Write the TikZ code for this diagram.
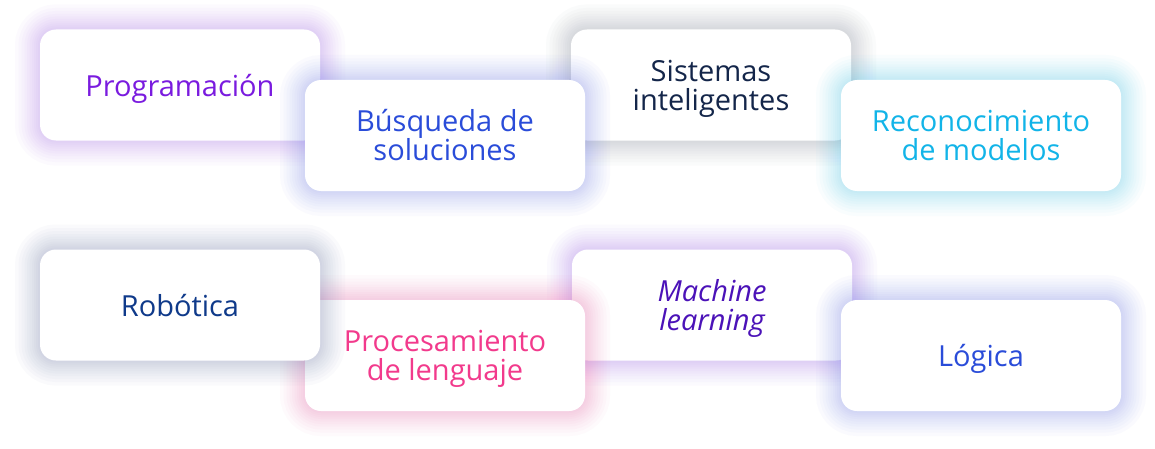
\documentclass[tikz,border=0pt]{standalone}
\usepackage{fontspec}
\setmainfont{Open Sans}
\usepackage{tikz}
\usetikzlibrary{positioning}

\definecolor{progtxt}{HTML}{7A1BDF}
\definecolor{busqtxt}{HTML}{2A4CD9}
\definecolor{sisttxt}{HTML}{14264A}
\definecolor{recotxt}{HTML}{12B4E8}
\definecolor{robotxt}{HTML}{0F3A8A}
\definecolor{proctxt}{HTML}{F23A8C}
\definecolor{machtxt}{HTML}{4B12B8}
\definecolor{logitxt}{HTML}{2A4CD9}

\definecolor{progglow}{HTML}{A066F0}
\definecolor{busqglow}{HTML}{6E7CF0}
\definecolor{sistglow}{HTML}{7F8797}
\definecolor{recoglow}{HTML}{40C8F5}
\definecolor{roboglow}{HTML}{6878A8}
\definecolor{procglow}{HTML}{F560A8}
\definecolor{machglow}{HTML}{9A60E8}

\begin{document}
\begin{tikzpicture}[
    x=1pt, y=1pt,
    card/.style={fill=white, rounded corners=16pt, minimum width=280pt,
      minimum height=111pt, align=center, inner sep=0pt,
      font=\fontsize{29}{29}\selectfont},
    nodepth/.style={text depth=0pt},
    halo/.style 2 args={preaction={draw=#1, draw opacity=0.032, line width=#2}},
    glow/.style={card,
      halo={#1}{50pt}, halo={#1}{43pt}, halo={#1}{37pt}, halo={#1}{31pt},
      halo={#1}{26pt}, halo={#1}{21pt}, halo={#1}{16pt}, halo={#1}{12pt},
      halo={#1}{8pt}, halo={#1}{4pt}},
]
\useasboundingbox[fill=white] (0,0) rectangle (1155,448);

% Row 1
\node[glow=progglow, text=progtxt, nodepth] (prog) at (180,363) {Programación};
\node[glow=sistglow, text=sisttxt, nodepth] (sist) at ([xshift=531pt] prog) {Sistemas\\inteligentes};
\node[glow=busqglow, text=busqtxt] (busq) at ([xshift=265pt, yshift=-50.5pt] prog) {Búsqueda de\\soluciones};
\node[glow=recoglow, text=recotxt] (reco) at ([xshift=270pt, yshift=-50.5pt] sist) {Reconocimiento\\de modelos};

% Row 2
\node[glow=machglow, text=machtxt, nodepth, font=\fontsize{29}{29}\selectfont\itshape] (mach) at ([xshift=1pt, yshift=-220pt] sist) {Machine\\learning};
\node[glow=procglow, text=proctxt, nodepth] (proc) at ([yshift=-220pt] busq) {Procesamiento\\de lenguaje};
\node[glow=roboglow, text=robotxt, nodepth] (robo) at ([yshift=-220pt] prog) {Robótica};
\node[glow=busqglow, text=logitxt, nodepth] (logi) at ([yshift=-220pt] reco) {Lógica};

\end{tikzpicture}
\end{document}
